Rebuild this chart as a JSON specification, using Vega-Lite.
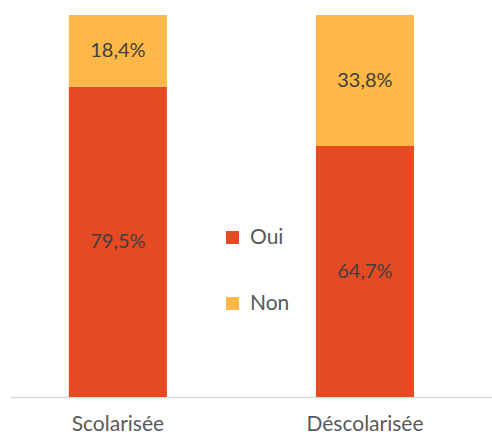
{
  "$schema": "https://vega.github.io/schema/vega-lite/v6.json",
  "width": 482,
  "height": 382,
  "autosize": {"type": "none"},
  "padding": {"left": 10, "right": 0, "top": 15, "bottom": 39},
  "background": "white",
  "config": {"view": {"stroke": null}},
  "data": {
    "values": [
      {"cat": "Scolarisée", "rep": "Oui", "ord": 1, "value": 79.5, "label": "79,5%"},
      {"cat": "Scolarisée", "rep": "Non", "ord": 2, "value": 18.4, "label": "18,4%"},
      {"cat": "Déscolarisée", "rep": "Oui", "ord": 1, "value": 64.7, "label": "64,7%"},
      {"cat": "Déscolarisée", "rep": "Non", "ord": 2, "value": 33.8, "label": "33,8%"}
    ]
  },
  "transform": [
    {"stack": "value", "groupby": ["cat"], "sort": [{"field": "ord", "order": "ascending"}], "offset": "normalize", "as": ["y0", "y1"]},
    {"calculate": "(datum.y0 + datum.y1) / 2", "as": "ymid"}
  ],
  "encoding": {
    "x": {
      "field": "cat",
      "type": "nominal",
      "sort": ["Scolarisée", "Déscolarisée"],
      "scale": {"paddingInner": 0.603, "paddingOuter": 0.277, "align": 0.43},
      "axis": {
        "title": null,
        "labelAngle": 0,
        "ticks": false,
        "domainColor": "#d9d9d9",
        "domainWidth": 1.5,
        "labelFont": "Lato",
        "labelFontSize": 21,
        "labelColor": "#595959",
        "labelPadding": 16
      }
    }
  },
  "layer": [
    {
      "mark": {"type": "bar"},
      "encoding": {
        "y": {"field": "y0", "type": "quantitative", "scale": {"domain": [0, 1]}, "axis": null},
        "y2": {"field": "y1"},
        "color": {
          "field": "rep",
          "type": "nominal",
          "scale": {"domain": ["Oui", "Non"], "range": ["#E64A22", "#FDB847"]},
          "legend": {
            "title": null,
            "orient": "none",
            "legendX": 212,
            "legendY": 212,
            "direction": "vertical",
            "symbolType": "square",
            "symbolSize": 170,
            "symbolStrokeWidth": 0,
            "labelFont": "Lato",
            "labelFontSize": 21,
            "labelColor": "#595959",
            "rowPadding": 44,
            "labelOffset": 7
          }
        }
      }
    },
    {
      "mark": {"type": "text", "font": "Lato", "fontSize": 20, "color": "#404040", "baseline": "middle"},
      "encoding": {
        "y": {"field": "ymid", "type": "quantitative", "scale": {"domain": [0, 1]}},
        "text": {"field": "label"}
      }
    }
  ]
}
